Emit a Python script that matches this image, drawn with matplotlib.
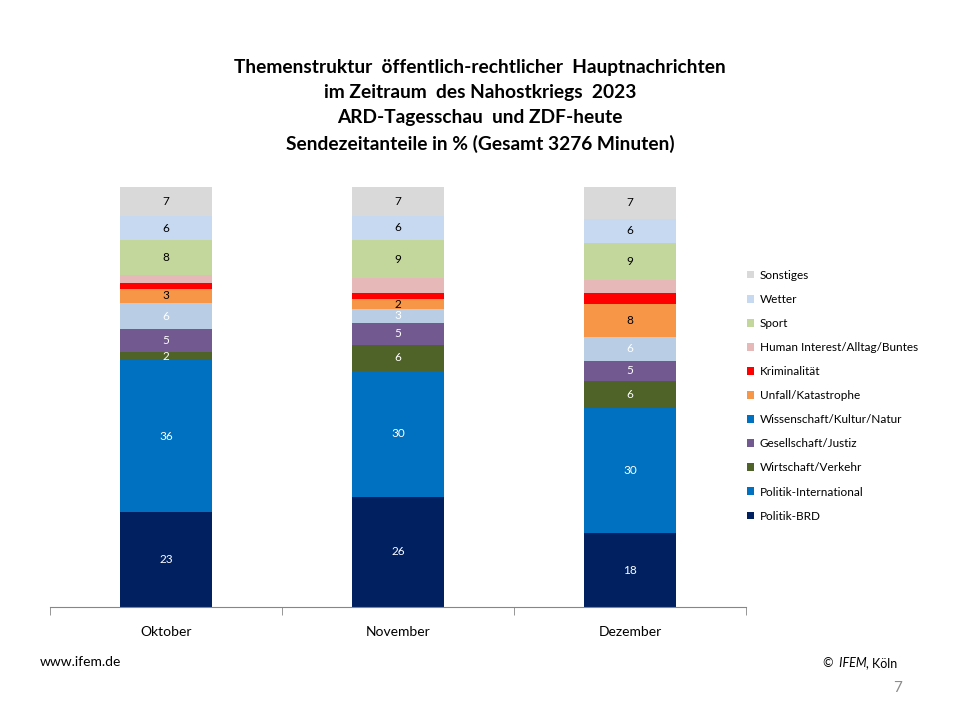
import matplotlib
matplotlib.use("Agg")
from matplotlib import pyplot as plt
from matplotlib.patches import Patch

plt.rcParams['font.family'] = ['Lato', 'DejaVu Sans']

# months and topic shares in % (bottom to top)
months = ['Oktober', 'November', 'Dezember']
topics = ['Politik-BRD', 'Politik-International', 'Wirtschaft/Verkehr',
          'Gesellschaft/Justiz', 'Wissenschaft/Kultur/Natur', 'Unfall/Katastrophe',
          'Kriminalität', 'Human Interest/Alltag/Buntes', 'Sport', 'Wetter', 'Sonstiges']

politik_brd = [22.6, 26.2, 17.6]
politik_int = [36.2, 30.0, 29.8]
wirtschaft = [1.9, 6.2, 6.4]
gesellschaft = [5.4, 5.3, 4.8]
wissenschaft = [6.3, 3.2, 5.7]
unfall = [3.3, 2.4, 7.9]
kriminalitaet = [1.5, 1.4, 2.6]
human = [1.8, 3.6, 3.1]
sport = [8.3, 9.1, 8.8]
wetter = [5.8, 5.7, 5.8]
sonstiges = [6.9, 6.9, 7.4]

series = [politik_brd, politik_int, wirtschaft, gesellschaft, wissenschaft, unfall,
          kriminalitaet, human, sport, wetter, sonstiges]
bar_colors = ['#002060', '#0070C0', '#4F6228', '#725990', '#B9CDE5', '#F79646',
              '#FF0000', '#E6B9B8', '#C3D69B', '#C6D9F1', '#D9D9D9']
# the original legend shows Wissenschaft with the dark blue swatch
legend_colors = bar_colors[:4] + ['#0070C0'] + bar_colors[5:]
label_colors = ['white', 'white', 'white', 'white', 'white', 'black',
                None, None, 'black', 'black', 'black']

fig = plt.figure(figsize=(9.6, 7.2), dpi=100)
ax = fig.add_axes([50 / 960, 1 - 607 / 720, 696 / 960, 420 / 720])

x = list(range(len(months)))
bottom = [0.0] * len(months)
for vals, col, lcol in zip(series, bar_colors, label_colors):
    bars = ax.bar(x, vals, width=0.4, bottom=bottom, color=col, linewidth=0)
    if lcol is not None:
        ax.bar_label(bars, labels=[f'{v:.0f}' for v in vals], label_type='center',
                     color=lcol, fontsize=8.5)
    bottom = [b + v for b, v in zip(bottom, vals)]

ax.set_xlim(-0.5, 2.5)
ax.set_ylim(0, 100)
ax.set_yticks([])
for s in ['top', 'right', 'left']:
    ax.spines[s].set_visible(False)
ax.spines['bottom'].set_color('#868686')
ax.set_xticks([-0.5, 0.5, 1.5, 2.5], minor=True)
ax.tick_params(axis='x', which='minor', length=6, color='#868686', direction='out')
ax.set_xticks(x)
ax.set_xticklabels(months, fontsize=10)
ax.tick_params(axis='x', which='major', length=0, pad=14)

handles = [Patch(facecolor=c, edgecolor='none') for c in legend_colors]
fig.legend(handles[::-1], topics[::-1], loc='upper left',
           bbox_to_anchor=(736 / 960, 1 - 259 / 720), frameon=False, fontsize=8.5,
           labelspacing=1.11, handlelength=0.65, handleheight=0.65, handletextpad=0.45)

title = ('Themenstruktur  öffentlich-rechtlicher  Hauptnachrichten\n'
         'im Zeitraum  des Nahostkriegs  2023\n'
         'ARD-Tagesschau  und ZDF-heute\n'
         'Sendezeitanteile in % (Gesamt 3276 Minuten)')
fig.text(0.5, 1 - 59 / 720, title, ha='center', va='top', fontsize=13.8,
         fontweight='bold', linespacing=1.58)

fig.text(40 / 960, 1 - 662 / 720, 'www.ifem.de', fontsize=10, va='center')
fig.text(866 / 960, 1 - 663 / 720, ', Köln', fontsize=9, va='center')
fig.text(867 / 960, 1 - 663 / 720, '©  IFEM', fontsize=9, va='center', ha='right',
         style='italic')
fig.text(902 / 960, 1 - 688 / 720, '7', fontsize=11, va='center', ha='right',
         color='#8C8C8C')

fig.savefig('out.png', dpi=100)
